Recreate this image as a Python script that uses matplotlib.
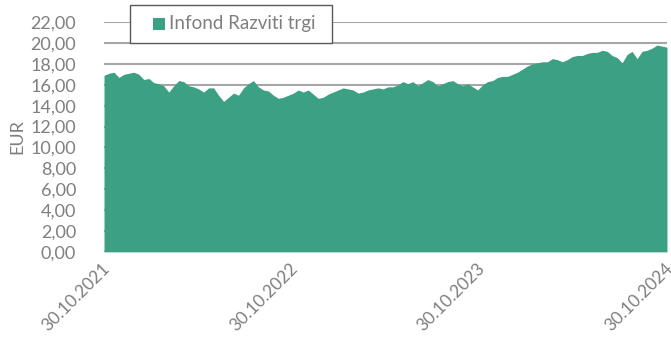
import pandas as pd
import matplotlib.pyplot as plt
import matplotlib.transforms as mtransforms
from matplotlib.patches import Rectangle
from matplotlib.ticker import FuncFormatter

FUND_NAME = "Infond Razviti trgi"
START_DATE = "2021-10-30"
END_DATE = "2024-10-30"

# vrednost enote premoženja (EUR), enakomerno razporejene točke
NAV_VALUES = [
    16.9, 17.1, 17.2, 16.7, 17.0, 17.1, 17.2, 17.0, 16.5, 16.6,
    16.2, 16.1, 15.9, 15.3, 15.9, 16.4, 16.3, 15.9, 15.8, 15.6,
    15.3, 15.7, 15.7, 15.0, 14.4, 14.8, 15.2, 15.0, 15.7, 16.1,
    16.4, 15.8, 15.5, 15.4, 15.0, 14.7, 14.8, 15.0, 15.2, 15.5,
    15.3, 15.5, 15.1, 14.7, 14.8, 15.1, 15.3, 15.5, 15.7, 15.6,
    15.5, 15.2, 15.3, 15.5, 15.6, 15.7, 15.6, 15.8, 15.8, 16.0,
    16.3, 16.1, 16.3, 15.9, 16.2, 16.5, 16.3, 15.9, 16.1, 16.3,
    16.4, 16.1, 15.9, 16.1, 15.8, 15.5, 16.0, 16.3, 16.4, 16.7,
    16.8, 16.8, 17.0, 17.2, 17.5, 17.8, 18.0, 18.1, 18.2, 18.2,
    18.5, 18.4, 18.2, 18.4, 18.7, 18.8, 18.8, 19.0, 19.1, 19.1,
    19.3, 19.2, 18.8, 18.6, 18.1, 18.9, 19.2, 18.5, 19.2, 19.3,
    19.5, 19.8, 19.7, 19.6,
]

X_TICKS = ["2021-10-30", "2022-10-30", "2023-10-30", "2024-10-30"]
Y_TICKS = list(range(0, 23, 2))

GREEN = "#3ca184"
GRID = "#a6a6a6"
TEXT = "#7f7f7f"

plt.rcParams["font.family"] = ["Lato", "DejaVu Sans"]

dates = pd.date_range(START_DATE, END_DATE, periods=len(NAV_VALUES))
nav = pd.Series(NAV_VALUES, index=dates)

W, H = 671, 345
fig = plt.figure(figsize=(W / 100, H / 100), dpi=100)
ax = fig.add_axes([0.155, 0.270, 0.839, 0.666])

ax.fill_between(nav.index, 0, nav.values, color=GREEN, linewidth=0, zorder=2)

ax.set_xlim(pd.Timestamp(START_DATE), pd.Timestamp(END_DATE))
ax.set_ylim(0, 22)
ax.set_yticks(Y_TICKS)
ax.yaxis.set_major_formatter(FuncFormatter(lambda v, _: f"{v:.2f}".replace(".", ",")))
ax.grid(axis="y", color=GRID, linewidth=1.5, zorder=0)
ax.set_axisbelow(True)

# datumi pod osjo, zasukani za 45 stopinj
tick_dates = pd.to_datetime(X_TICKS)
ax.set_xticks(tick_dates)
ax.set_xticklabels([])
shift = mtransforms.ScaledTranslation(-2 / 100, -8 / 100, fig.dpi_scale_trans)
for d in tick_dates:
    ax.text(d, 0, d.strftime("%d.%m.%Y"), transform=ax.get_xaxis_transform() + shift,
            rotation=45, ha="right", va="top", rotation_mode="anchor",
            fontsize=12.5, color=TEXT)

for side in ["top", "right", "left", "bottom"]:
    ax.spines[side].set_visible(False)
ax.tick_params(axis="both", length=0, labelsize=13, labelcolor=TEXT)
ax.tick_params(axis="y", pad=20)

ax.set_ylabel("EUR", color=TEXT, fontsize=13, labelpad=4)

# legenda: okvir, zelen kvadratek in ime sklada
fig.add_artist(Rectangle((130 / W, 1 - 43 / H), 202 / W, 38 / H,
                         transform=fig.transFigure, facecolor="white",
                         edgecolor="#595959", linewidth=1.0, zorder=5))
fig.add_artist(Rectangle((153 / W, 1 - 30 / H), 12 / W, 12 / H,
                         transform=fig.transFigure, facecolor=GREEN,
                         edgecolor="none", zorder=6))
fig.text(169 / W, 1 - 24 / H, FUND_NAME, fontsize=13.5, color=TEXT,
         ha="left", va="center", zorder=6)

fig.savefig("out.png", dpi=100)
